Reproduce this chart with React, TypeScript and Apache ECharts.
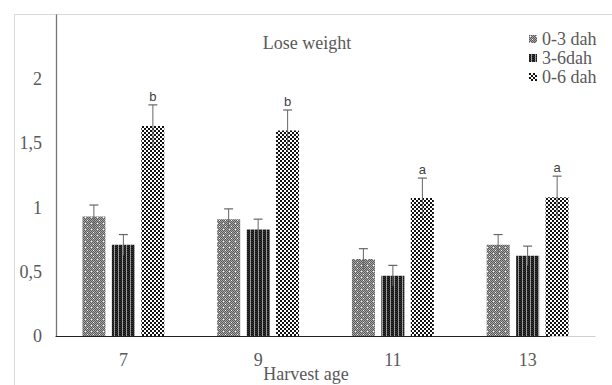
import React, { useEffect, useRef } from "react";
import * as echarts from "echarts";

const categories = ["7", "9", "11", "13"];
const seriesNames = ["0-3 dah", "3-6dah", "0-6 dah"];
const mean03 = [0.93, 0.91, 0.6, 0.71];
const err03 = [0.09, 0.08, 0.08, 0.08];
const mean36 = [0.71, 0.83, 0.47, 0.625];
const err36 = [0.08, 0.08, 0.08, 0.075];
const mean06 = [1.635, 1.6, 1.075, 1.08];
const err06 = [0.165, 0.16, 0.155, 0.165];
const letters06 = ["b", "b", "a", "a"];

function makePattern(rows: string[]) {
  const h = rows.length;
  const w = rows[0].length;
  const canvas = document.createElement("canvas");
  canvas.width = w;
  canvas.height = h;
  const ctx = canvas.getContext("2d")!;
  const map: Record<string, string> = {
    K: "#111111",
    D: "#333333",
    M: "#5a5a5a",
    G: "#8a8a8a",
    L: "#a8a8a8",
    W: "#ffffff",
  };
  for (let y = 0; y < h; y++) {
    for (let x = 0; x < w; x++) {
      ctx.fillStyle = map[rows[y][x]];
      ctx.fillRect(x, y, 1, 1);
    }
  }
  return {
    image: canvas.toDataURL(),
    repeat: "repeat",
    imageWidth: w,
    imageHeight: h,
  };
}

export default function App() {
  const ref = useRef<HTMLDivElement>(null);
  useEffect(() => {
    if (!ref.current) return;
    const chart = echarts.init(ref.current, null, { renderer: "svg" });

    const pat03 = makePattern([
      "MLMLML",
      "LWLMLM",
      "MLMLML",
      "LMLMLM",
      "MLMWML",
      "LMLMLM",
    ]);
    const pat36 = makePattern(["KDGK", "DKLD"]);
    const pat06 = makePattern(["KKWW", "KKWW", "WWKK", "WWKK"]);
    const patterns = [pat03, pat36, pat06];
    const means = [mean03, mean36, mean06];
    const errs = [err03, err36, err06];
    const offsets = [-29.5, 0, 29.5];
    const serif = "Liberation Serif";
    const textColor = "#595959";

    const barSeries = seriesNames.map((name, s) => ({
      name,
      type: "bar",
      data: means[s],
      barWidth: 23,
      barGap: "28%",
      itemStyle: { color: patterns[s] },
      z: 2,
    }));

    const errSeries = seriesNames.map((name, s) => ({
      name: name + " err",
      type: "custom",
      z: 5,
      data: means[s].map((m, i) => [i, m, errs[s][i]]),
      renderItem: (params: any, api: any) => {
        const idx = api.value(0);
        const m = api.value(1);
        const e = api.value(2);
        const letter = s === 2 ? letters06[params.dataIndex] : "";
        const x = api.coord([idx, 0])[0] + offsets[s];
        const yTop = api.coord([idx, m + e])[1];
        const yBot = api.coord([idx, m - e])[1];
        const children: any[] = [
          {
            type: "line",
            shape: { x1: x, y1: yBot, x2: x, y2: yTop },
            style: { stroke: "#666666", lineWidth: 1 },
          },
          {
            type: "line",
            shape: { x1: x - 4.5, y1: yTop, x2: x + 4.5, y2: yTop },
            style: { stroke: "#666666", lineWidth: 1.2 },
          },
        ];
        if (letter) {
          children.push({
            type: "text",
            x,
            y: yTop - 2,
            style: {
              text: letter,
              fill: "#404040",
              font: "13px 'Liberation Sans', Arial, sans-serif",
              textAlign: "center",
              textVerticalAlign: "bottom",
            },
          });
        }
        return { type: "group", children };
      },
    }));

    chart.setOption({
      animation: false,
      backgroundColor: "#ffffff",
      grid: { left: 56, right: 17, top: 15, bottom: 49, containLabel: false },
      legend: {
        data: seriesNames,
        orient: "vertical",
        left: 529,
        top: 30,
        itemWidth: 8,
        itemHeight: 8,
        itemGap: 1,
        icon: "rect",
        padding: 0,
        textStyle: {
          fontFamily: serif,
          fontSize: 18,
          color: textColor,
        },
      },
      xAxis: {
        type: "category",
        data: categories,
        axisTick: { show: false },
        axisLine: {
          lineStyle: {
            width: 1.2,
            color: new echarts.graphic.LinearGradient(
              57,
              0,
              595,
              0,
              [
                { offset: 0, color: "#222222" },
                { offset: 0.916, color: "#222222" },
                { offset: 0.917, color: "#d0d0d0" },
                { offset: 1, color: "#d0d0d0" },
              ],
              true
            ),
          },
        },
        axisLabel: {
          fontFamily: serif,
          fontSize: 18,
          color: textColor,
          margin: 15,
        },
      },
      yAxis: {
        type: "value",
        min: 0,
        max: 2.5,
        interval: 0.5,
        splitLine: { show: false },
        axisTick: { show: false },
        axisLine: { show: true, lineStyle: { color: "#777777", width: 1.3 } },
        axisLabel: {
          fontFamily: serif,
          fontSize: 18,
          color: textColor,
          margin: 14,
          formatter: (v: number) => (v > 2.2 ? "" : String(v).replace(".", ",")),
        },
      },
      graphic: [
        {
          type: "rect",
          shape: { x: 14.5, y: 14.5, width: 700, height: 500 },
          style: { fill: "none", stroke: "#d9d9d9", lineWidth: 1 },
          silent: true,
          z: -10,
        },
        {
          type: "text",
          x: 307,
          y: 43,
          style: {
            text: "Lose weight",
            font: "18px 'Liberation Serif', serif",
            fill: textColor,
            textAlign: "center",
            textVerticalAlign: "middle",
          },
        },
        {
          type: "text",
          x: 306,
          y: 374,
          style: {
            text: "Harvest age",
            font: "18px 'Liberation Serif', serif",
            fill: textColor,
            textAlign: "center",
            textVerticalAlign: "middle",
          },
        },
      ],
      series: [...barSeries, ...errSeries],
    });
    return () => chart.dispose();
  }, []);
  return (
    <div
      ref={ref}
      style={{ position: "fixed", left: 0, top: 0, width: 612, height: 385 }}
    />
  );
}
